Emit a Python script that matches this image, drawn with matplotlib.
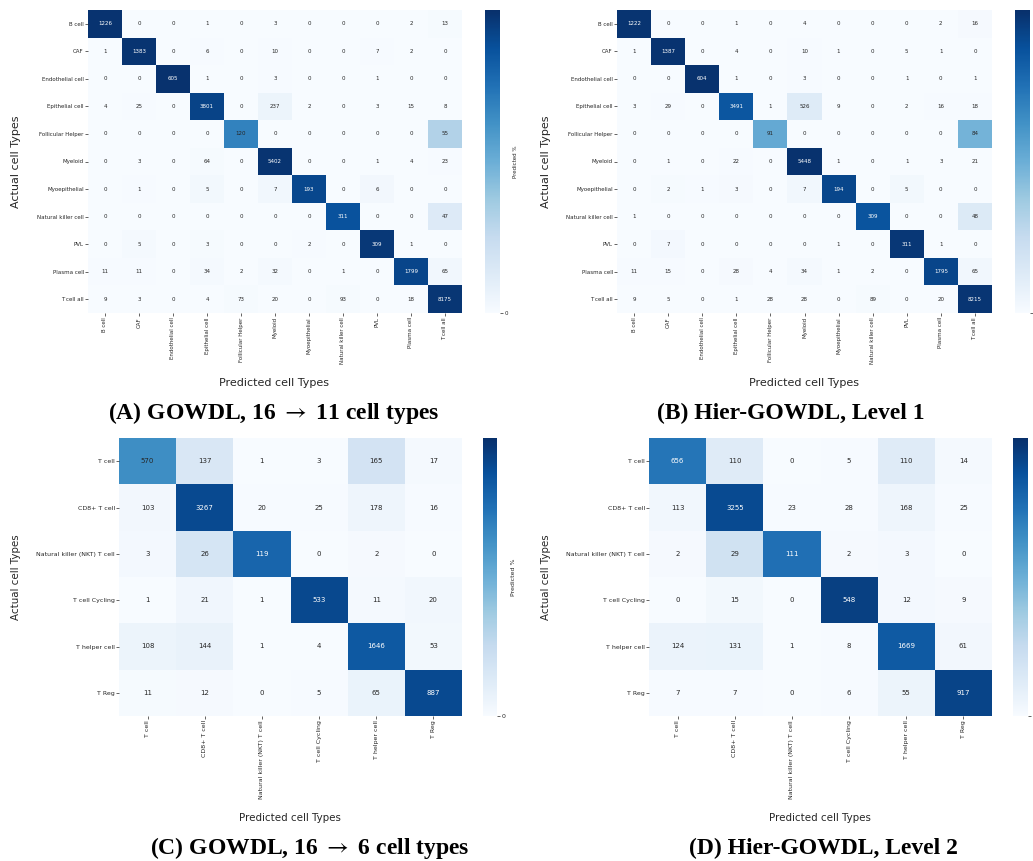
import numpy as np
import matplotlib
matplotlib.use("Agg")
import matplotlib.pyplot as plt
from matplotlib import cm, colors

plt.rcParams["mathtext.fontset"] = "stix"

W, H = 1033, 861

labels11 = ["B cell", "CAF", "Endothelial cell", "Epithelial cell", "Follicular Helper",
            "Myeloid", "Myoepithelial", "Natural killer cell", "PVL", "Plasma cell", "T cell all"]
labels6 = ["T cell", "CD8+ T cell", "Natural killer (NKT) T cell", "T cell Cycling",
           "T helper cell", "T Reg"]

cm_a = [
    [1226, 0, 0, 1, 0, 3, 0, 0, 0, 2, 13],
    [1, 1383, 0, 6, 0, 10, 0, 0, 7, 2, 0],
    [0, 0, 605, 1, 0, 3, 0, 0, 1, 0, 0],
    [4, 25, 0, 3801, 0, 237, 2, 0, 3, 15, 8],
    [0, 0, 0, 0, 120, 0, 0, 0, 0, 0, 55],
    [0, 3, 0, 64, 0, 5402, 0, 0, 1, 4, 23],
    [0, 1, 0, 5, 0, 7, 193, 0, 6, 0, 0],
    [0, 0, 0, 0, 0, 0, 0, 311, 0, 0, 47],
    [0, 5, 0, 3, 0, 0, 2, 0, 309, 1, 0],
    [11, 11, 0, 34, 2, 32, 0, 1, 0, 1799, 65],
    [9, 3, 0, 4, 73, 20, 0, 93, 0, 18, 8175],
]
cm_b = [
    [1222, 0, 0, 1, 0, 4, 0, 0, 0, 2, 16],
    [1, 1387, 0, 4, 0, 10, 1, 0, 5, 1, 0],
    [0, 0, 604, 1, 0, 3, 0, 0, 1, 0, 1],
    [3, 29, 0, 3491, 1, 526, 9, 0, 2, 16, 18],
    [0, 0, 0, 0, 91, 0, 0, 0, 0, 0, 84],
    [0, 1, 0, 22, 0, 5448, 1, 0, 1, 3, 21],
    [0, 2, 1, 3, 0, 7, 194, 0, 5, 0, 0],
    [1, 0, 0, 0, 0, 0, 0, 309, 0, 0, 48],
    [0, 7, 0, 0, 0, 0, 1, 0, 311, 1, 0],
    [11, 15, 0, 28, 4, 34, 1, 2, 0, 1795, 65],
    [9, 5, 0, 1, 28, 28, 0, 89, 0, 20, 8215],
]
cm_c = [
    [570, 137, 1, 3, 165, 17],
    [103, 3267, 20, 25, 178, 16],
    [3, 26, 119, 0, 2, 0],
    [1, 21, 1, 533, 11, 20],
    [108, 144, 1, 4, 1646, 53],
    [11, 12, 0, 5, 65, 887],
]
cm_d = [
    [656, 110, 0, 5, 110, 14],
    [113, 3255, 23, 28, 168, 25],
    [2, 29, 111, 2, 3, 0],
    [0, 15, 0, 548, 12, 9],
    [124, 131, 1, 8, 1669, 61],
    [7, 7, 0, 6, 55, 917],
]

titles = [r"(A) GOWDL, 16 $\rightarrow$ 11 cell types", "(B) Hier-GOWDL, Level 1",
          r"(C) GOWDL, 16 $\rightarrow$ 6 cell types", "(D) Hier-GOWDL, Level 2"]

fig = plt.figure(figsize=(W / 100, H / 100), dpi=100)
fig.patch.set_facecolor("white")


def box(x0, y0, x1, y1):
    return [x0 / W, 1 - y1 / H, (x1 - x0) / W, (y1 - y0) / H]


cmap = plt.get_cmap("Blues")
norm = colors.Normalize(vmin=0, vmax=1)
TXT = "#262626"


def draw(mat, labels, hm, cb, ylab_x, xlab_xy, title, title_xy, tick_fs, ann_fs, lab_fs, show_cblabel=True):
    m = np.array(mat, dtype=float)
    frac = m / m.sum(axis=1, keepdims=True)
    n = len(labels)
    ax = fig.add_axes(box(*hm))
    ax.pcolormesh(np.arange(n + 1), np.arange(n + 1), frac, cmap=cmap, norm=norm,
                  edgecolors="face", linewidth=0)
    ax.set_xlim(0, n)
    ax.set_ylim(n, 0)
    for sp in ax.spines.values():
        sp.set_visible(False)
    for i in range(n):
        for j in range(n):
            rgba = cmap(norm(frac[i, j]))
            lum = 0.2126 * rgba[0] + 0.7152 * rgba[1] + 0.0722 * rgba[2]
            c = TXT if lum > 0.45 else "white"
            ax.text(j + 0.5, i + 0.5, f"{int(m[i, j])}", ha="center", va="center",
                    fontsize=ann_fs, color=c)
    ax.set_xticks(np.arange(n) + 0.5)
    ax.set_yticks(np.arange(n) + 0.5)
    ax.set_xticklabels(labels, rotation=90, fontsize=tick_fs, color=TXT)
    ax.set_yticklabels(labels, fontsize=tick_fs, color=TXT)
    ax.tick_params(length=2, width=0.5, color=TXT, pad=1)

    cax = fig.add_axes(box(*cb))
    cb_obj = fig.colorbar(cm.ScalarMappable(norm=norm, cmap=cmap), cax=cax)
    cb_obj.outline.set_visible(False)
    cb_obj.set_ticks([0])
    cb_obj.ax.tick_params(labelsize=tick_fs, length=2, width=0.5, color=TXT, pad=1, labelcolor=TXT)
    if show_cblabel:
        cb_obj.set_label("Predicted %", fontsize=tick_fs, color=TXT)
    else:
        cb_obj.set_ticklabels([""])

    yc = (hm[1] + hm[3]) / 2
    fig.text(ylab_x / W, 1 - yc / H, "Actual cell Types", rotation=90, ha="center", va="center",
             fontsize=lab_fs, color=TXT)
    fig.text(xlab_xy[0] / W, 1 - xlab_xy[1] / H, "Predicted cell Types", ha="center", va="center",
             fontsize=lab_fs, color=TXT)
    fig.text(title_xy[0] / W, 1 - title_xy[1] / H, title, ha="center", va="center",
             fontsize=17, fontweight="bold", family=["Liberation Serif", "DejaVu Serif"], color="black")


draw(cm_a, labels11, (88, 10, 462, 313), (485, 10, 500, 313), 16, (274, 383),
     titles[0], (274, 413), 4.0, 4.0, 8.0)
draw(cm_b, labels11, (617, 10, 992, 313), (1015, 10, 1030, 313), 546, (804, 383),
     titles[1], (791, 413), 4.0, 4.0, 8.0, show_cblabel=False)
draw(cm_c, labels6, (119, 438, 462, 716), (483, 438, 497, 716), 16, (290, 818),
     titles[2], (310, 848), 4.5, 5.0, 7.4)
draw(cm_d, labels6, (649, 438, 992, 716), (1013, 438, 1028, 716), 546, (820, 818),
     titles[3], (823, 848), 4.5, 5.0, 7.4, show_cblabel=False)

fig.savefig("out.png", dpi=100, facecolor="white")
